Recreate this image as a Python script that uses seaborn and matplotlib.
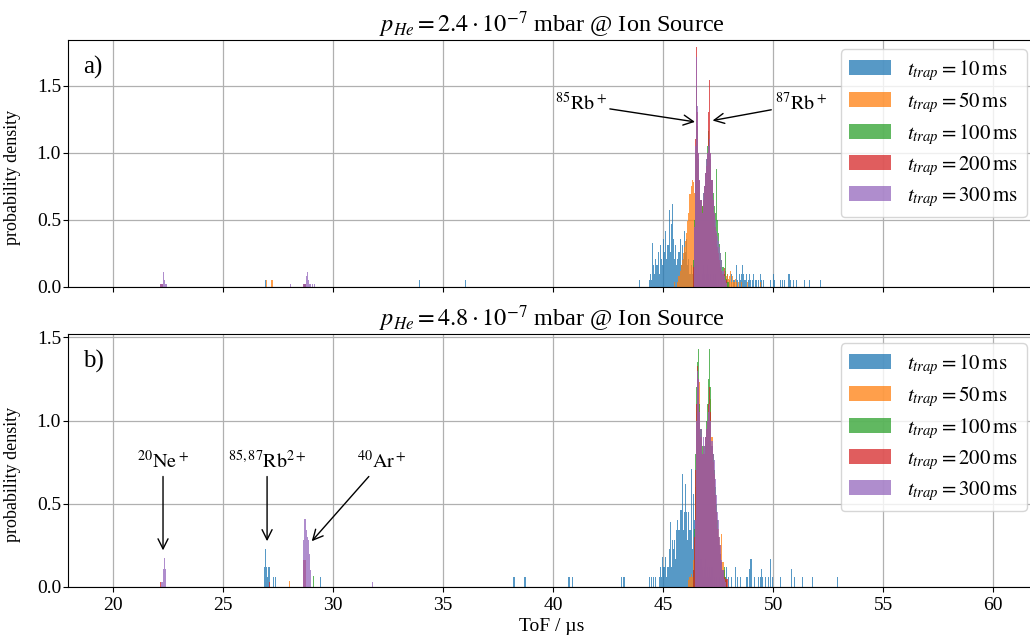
import numpy as np
import pandas as pd
import matplotlib
matplotlib.use("Agg")
import matplotlib.pyplot as plt
import seaborn as sns

# ---------------- data (probability density per 0.05 us bin) ----------------
BIN_WIDTH = 0.05
t_trap_ms = [10, 50, 100, 200, 300]
panel_titles = [r"$p_{He} = 2.4 \cdot 10^{-7}$ mbar @ Ion Source",
                r"$p_{He} = 4.8 \cdot 10^{-7}$ mbar @ Ion Source"]
panel_letters = ["a)", "b)"]
x_ticks = [20, 25, 30, 35, 40, 45, 50, 55, 60]

# ---- panel a ----
a10_t0 = 44.35
a10_core = [0.05, 0.10, 0.05, 0.33, 0.16, 0.10, 0.21, 0.16, 0.26, 0.10,
            0.31, 0.21, 0.16, 0.36, 0.26, 0.42, 0.21, 0.31, 0.57, 0.26,
            0.47, 0.62, 0.36, 0.21, 0.31, 0.16, 0.21, 0.26, 0.36, 0.16,
            0.31, 0.21, 0.42, 0.26, 0.36, 0.16, 0.21, 0.10, 0.16, 0.10,
            0.16, 0.10, 0.21, 0.16, 0.10, 0.16, 0.10, 0.05, 0.10, 0.16,
            0.10, 0.05, 0.10, 0.16, 0.10, 0.05, 0.10, 0.05, 0.10, 0.05,
            0.10, 0.05, 0.00, 0.05, 0.00]
a10_pts_t = [26.925, 33.925, 36.025, 43.925,
             47.675, 47.825, 47.925, 48.025, 48.125, 48.225, 48.325, 48.375,
             48.475, 48.525, 48.575, 48.625, 48.675, 48.725, 48.775, 48.875,
             48.925, 48.975, 49.075, 49.125, 49.225, 49.325, 49.425, 49.475,
             49.575, 49.875, 50.025, 50.075, 50.325, 50.425, 50.525, 50.725,
             50.775, 50.925, 51.075, 51.425, 51.675, 52.175]
a10_pts_d = [0.05, 0.05, 0.05, 0.05,
             0.05, 0.05, 0.10, 0.05, 0.10, 0.05, 0.16, 0.05,
             0.10, 0.05, 0.10, 0.16, 0.10, 0.05, 0.10, 0.05,
             0.10, 0.05, 0.05, 0.10, 0.05, 0.05, 0.10, 0.05,
             0.05, 0.05, 0.10, 0.05, 0.05, 0.05, 0.05, 0.10,
             0.05, 0.05, 0.05, 0.05, 0.05, 0.05]

a50_t0 = 45.65
a50_core = [0.04, 0.08, 0.12, 0.16, 0.20, 0.25, 0.30, 0.34, 0.40, 0.49,
            0.55, 0.69, 0.75, 0.80, 0.78, 0.70, 0.85, 1.00, 0.90, 0.80,
            0.70, 0.65, 0.60, 0.65, 0.70, 0.75, 0.80, 0.80, 0.85, 0.80,
            0.75, 0.65, 0.55, 0.45, 0.40, 0.32, 0.28, 0.22, 0.18, 0.14,
            0.12, 0.10, 0.08, 0.12, 0.08, 0.10, 0.06, 0.08, 0.12, 0.04,
            0.08, 0.04, 0.06, 0.04, 0.00, 0.04]
a50_pts_t = [26.975, 27.225, 45.525, 48.575, 48.825, 49.425]
a50_pts_d = [0.05, 0.05, 0.04, 0.04, 0.04, 0.04]

a100_t0 = 46.35
a100_core = [0.20, 0.50, 1.00, 1.50, 1.20, 0.95, 0.79, 0.65, 0.60, 0.70,
             0.75, 0.85, 0.95, 1.05, 1.16, 1.05, 0.95, 0.80, 0.70, 0.60,
             0.55, 0.88, 0.50, 0.40, 0.32, 0.25, 0.20, 0.15, 0.10, 0.26,
             0.06, 0.04, 0.04]
a100_pts_t = [28.725]
a100_pts_d = [0.025]

a200_t0 = 46.35
a200_core = [0.15, 0.45, 1.10, 1.79, 1.30, 1.00, 0.80, 0.65, 0.55, 0.65,
             0.75, 0.85, 0.90, 1.00, 1.30, 1.54, 1.00, 0.80, 0.65, 0.55,
             0.45, 0.40, 0.30, 0.25, 0.20, 0.15, 0.12, 0.10, 0.14, 0.05,
             0.05]
a200_pts_t = [22.175, 22.225, 28.675, 28.725]
a200_pts_d = [0.025, 0.025, 0.025, 0.025]

a300_t0 = 46.40
a300_core = [0.45, 1.05, 1.71, 1.35, 1.00, 0.80, 0.65, 0.55, 0.70, 0.75,
             0.85, 0.95, 1.00, 1.05, 1.10, 1.00, 0.80, 0.65, 0.55, 0.50,
             0.42, 0.38, 0.34, 0.30, 0.25, 0.20, 0.12, 0.08, 0.05, 0.03]
a300_pts_t = [22.175, 22.225, 22.275, 22.325, 22.375, 22.425, 28.075,
              28.675, 28.725, 28.775, 28.825, 28.875, 28.925, 28.975,
              29.075, 29.175]
a300_pts_d = [0.025, 0.025, 0.11, 0.05, 0.025, 0.025, 0.025,
              0.025, 0.025, 0.08, 0.11, 0.05, 0.025, 0.025,
              0.025, 0.025]

# ---- panel b ----
b10_t0 = 44.80
b10_core = [0.06, 0.12, 0.06, 0.18, 0.12, 0.12, 0.18, 0.06, 0.12, 0.23,
            0.39, 0.12, 0.28, 0.23, 0.28, 0.17, 0.34, 0.40, 0.34, 0.46,
            0.46, 0.68, 0.34, 0.45, 0.62, 0.45, 0.28, 0.45, 0.34, 0.71,
            0.23, 0.56, 0.40, 0.28, 0.23, 0.17, 0.23, 0.12, 0.17, 0.12,
            0.06, 0.12, 0.17, 0.06, 0.12, 0.06, 0.12, 0.06, 0.12, 0.00,
            0.06, 0.00, 0.06]
b10_pts_t = [26.875, 26.925, 26.975, 27.025, 27.075, 27.125, 27.275, 27.375,
             29.425, 38.225, 38.725, 40.725, 40.875, 43.125, 43.225,
             44.375, 44.475, 44.575, 44.675,
             47.575, 47.725, 47.875, 47.975, 48.125, 48.275, 48.375, 48.525,
             48.775, 48.825, 48.925, 48.975, 49.025, 49.175, 49.325, 49.425,
             49.475, 49.525, 49.675, 49.775, 49.875, 49.975, 50.325, 50.825,
             50.975, 51.325, 51.775, 52.925]
b10_pts_d = [0.12, 0.23, 0.12, 0.06, 0.12, 0.12, 0.06, 0.06,
             0.06, 0.06, 0.06, 0.06, 0.06, 0.06, 0.06,
             0.06, 0.06, 0.06, 0.06,
             0.06, 0.06, 0.12, 0.06, 0.06, 0.12, 0.06, 0.06,
             0.06, 0.06, 0.11, 0.17, 0.17, 0.06, 0.06, 0.06,
             0.11, 0.06, 0.06, 0.06, 0.17, 0.06, 0.06, 0.11,
             0.06, 0.06, 0.06, 0.06]

b50_t0 = 46.15
b50_core = [0.04, 0.06, 0.08, 0.06, 0.16, 0.30, 0.60, 1.00, 1.15, 1.20,
            1.23, 0.95, 0.80, 0.85, 0.80, 0.90, 0.95, 1.00, 1.05, 1.10,
            1.13, 0.90, 0.80, 0.70, 0.55, 0.45, 0.40, 0.35, 0.30, 0.25,
            0.32, 0.15, 0.10, 0.06, 0.04]
b50_pts_t = [28.025]
b50_pts_d = [0.036]

b100_t0 = 46.35
b100_core = [0.10, 0.35, 0.80, 1.20, 1.35, 1.43, 1.10, 0.95, 0.85, 0.80,
             0.85, 0.90, 1.00, 1.10, 1.25, 1.43, 1.20, 0.85, 0.80, 0.70,
             0.60, 0.50, 0.40, 0.30, 0.25, 0.20, 0.15, 0.10, 0.12, 0.06,
             0.04]
b100_pts_t = [29.125]
b100_pts_d = [0.066]

b200_t0 = 46.35
b200_core = [0.10, 0.30, 0.70, 1.10, 1.33, 1.25, 1.05, 0.90, 0.80, 0.85,
             0.80, 0.90, 0.95, 1.00, 1.10, 1.20, 1.05, 0.85, 0.75, 0.68,
             0.55, 0.45, 0.35, 0.30, 0.25, 0.20, 0.15, 0.10, 0.06, 0.05,
             0.05, 0.05]
b200_pts_t = [22.175, 27.125, 28.675, 28.725]
b200_pts_d = [0.03, 0.03, 0.16, 0.16]

b300_t0 = 46.45
b300_core = [0.40, 1.00, 1.30, 1.25, 1.05, 0.95, 0.80, 0.90, 0.85, 0.90,
             0.95, 1.00, 1.05, 1.10, 1.00, 0.88, 0.80, 0.76, 0.65, 0.55,
             0.45, 0.40, 0.30, 0.25, 0.16, 0.10, 0.05, 0.03]
b300_pts_t = [22.225, 22.275, 22.325, 22.375, 28.675, 28.725, 28.775,
              28.825, 28.875, 28.925, 28.975, 31.775]
b300_pts_d = [0.03, 0.106, 0.177, 0.106, 0.28, 0.41, 0.34,
              0.30, 0.28, 0.20, 0.10, 0.03]

panel_series = [
    [(a10_t0, a10_core, a10_pts_t, a10_pts_d),
     (a50_t0, a50_core, a50_pts_t, a50_pts_d),
     (a100_t0, a100_core, a100_pts_t, a100_pts_d),
     (a200_t0, a200_core, a200_pts_t, a200_pts_d),
     (a300_t0, a300_core, a300_pts_t, a300_pts_d)],
    [(b10_t0, b10_core, b10_pts_t, b10_pts_d),
     (b50_t0, b50_core, b50_pts_t, b50_pts_d),
     (b100_t0, b100_core, b100_pts_t, b100_pts_d),
     (b200_t0, b200_core, b200_pts_t, b200_pts_d),
     (b300_t0, b300_core, b300_pts_t, b300_pts_d)],
]

# annotations: (label, text x, text y, arrow x, arrow y)
ann_a = [(r"$^{85}\mathrm{Rb}^+$", 41.25, 1.36, 46.45, 1.23),
         (r"$^{87}\mathrm{Rb}^+$", 51.25, 1.36, 47.25, 1.24)]
ann_b = [(r"$^{20}\mathrm{Ne}^+$", 22.27, 0.75, 22.27, 0.22),
         (r"$^{85,87}\mathrm{Rb}^{2+}$", 27.0, 0.75, 27.0, 0.275),
         (r"$^{40}\mathrm{Ar}^+$", 32.2, 0.75, 29.03, 0.275)]
panel_annotations = [ann_a, ann_b]

# ---------------- styling ----------------
sns.set_style("ticks")
plt.rcParams["font.family"] = ["Liberation Serif", "DejaVu Serif"]
plt.rcParams["mathtext.fontset"] = "stix"
plt.rcParams["axes.edgecolor"] = "black"
plt.rcParams["xtick.color"] = "black"
plt.rcParams["ytick.color"] = "black"
plt.rcParams["axes.labelcolor"] = "black"
plt.rcParams["text.color"] = "black"

colors = sns.color_palette("tab10", 5)
edges = [round(18.0 + BIN_WIDTH * k, 4) for k in range(int(round(44.0 / BIN_WIDTH)) + 1)]

fig = plt.figure(figsize=(10.3, 6.39), dpi=100)
ax_a = fig.add_axes([0.066, 0.5509, 0.9398, 0.3865])
ax_b = fig.add_axes([0.066, 0.0814, 0.9398, 0.3959], sharex=ax_a)
axes = [ax_a, ax_b]

for p, ax in enumerate(axes):
    for (t0, core, pts_t, pts_d), ms, col in zip(panel_series[p], t_trap_ms, colors):
        core_t = t0 + BIN_WIDTH * (np.arange(len(core)) + 0.5)
        df = pd.DataFrame({"tof": np.concatenate([core_t, pts_t]),
                           "density": np.concatenate([core, pts_d])})
        sns.histplot(data=df, x="tof", weights="density", bins=edges,
                     stat="count", element="bars", fill=True, linewidth=0,
                     alpha=0.75, color=col, ax=ax,
                     label=r"$t_{trap} = %d\,\mathrm{ms}$" % ms)
    ax.set_title(panel_titles[p], fontsize=17.5, pad=5)
    ax.set_ylabel("probability density", fontsize=13)
    ax.yaxis.set_label_coords(-0.049, 0.445)
    ax.grid(True, color="#b0b0b0", linewidth=0.9)
    ax.set_axisbelow(True)
    ax.set_xlim(17.95, 61.95)
    ax.set_yticks([0.0, 0.5, 1.0, 1.5])
    ax.tick_params(labelsize=14)
    ax.tick_params(axis="y", pad=1.5)
    ax.text(0.016, 0.89, panel_letters[p], transform=ax.transAxes,
            fontsize=18, va="center", ha="left")
    ax.legend(loc="upper right", fontsize=15, handlelength=2.0,
              handleheight=0.7, labelspacing=0.34, borderpad=0.4,
              borderaxespad=0.45, framealpha=0.8)
    for lab, tx, ty, axx, ayy in panel_annotations[p]:
        ax.annotate(lab, xy=(axx, ayy), xytext=(tx, ty), fontsize=14.5,
                    ha="center", va="center",
                    arrowprops=dict(arrowstyle="->", color="black", lw=1.0,
                                    mutation_scale=18, shrinkA=0, shrinkB=0))

ax_a.set_ylim(0, 1.84)
ax_b.set_ylim(0, 1.52)
ax_a.set_xlabel("")
plt.setp(ax_a.get_xticklabels(), visible=False)
ax_b.set_xticks(x_ticks)
ax_b.set_xlabel("ToF / µs", fontsize=14, labelpad=3)

fig.savefig("out.png", dpi=100)
